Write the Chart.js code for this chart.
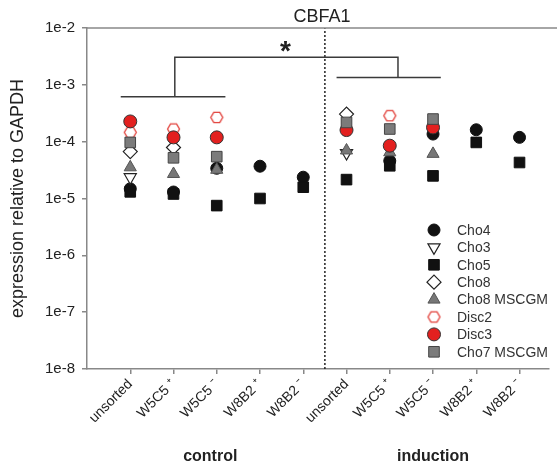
<!DOCTYPE html>
<html><head><meta charset="utf-8">
<script src="https://cdn.jsdelivr.net/npm/chart.js@4.4.1/dist/chart.umd.min.js"></script>
<style>html,body{margin:0;padding:0;background:#fff}</style>
</head><body>
<canvas id="c" width="557" height="466"></canvas>
<script>
// ---------- data ----------
const chartTitle = "CBFA1";
const categories = ["unsorted","W5C5 \u207A","W5C5 \u207B","W8B2 \u207A","W8B2 \u207B","unsorted","W5C5 \u207A","W5C5 \u207B","W8B2 \u207A","W8B2 \u207B"];
const groupLabels = ["control","induction"];
const groupCenters = [2.85, 8.0];
const yTicks = [1e-8,1e-7,1e-6,1e-5,1e-4,1e-3,1e-2];
const yTickLabels = ["1e-8","1e-7","1e-6","1e-5","1e-4","1e-3","1e-2"];
const seriesNames = ["Cho4","Cho3","Cho5","Cho8","Cho8 MSCGM","Disc2","Disc3","Cho7 MSCGM"];
const cho4      = [1.48e-5, 1.3e-5,  3.4e-5, 3.7e-5, 2.37e-5, null,    4.6e-5, 1.36e-4, 1.62e-4, 1.19e-4];
const cho3      = [2.37e-5, null,    null,   null,   null,    6.3e-5,  null,   null,    null,    null];
const cho5      = [1.31e-5, 1.2e-5,  7.5e-6, 1.0e-5, 1.58e-5, 2.15e-5, 3.76e-5,2.5e-5,  9.7e-5,  4.3e-5];
const cho8      = [6.7e-5,  7.9e-5,  null,   null,   null,    3.06e-4, null,   null,    null,    null];
const cho8MSCGM = [3.54e-5, 2.7e-5,  3.2e-5, null,   null,    7.0e-5,  6.5e-5, 6.1e-5,  null,    null];
const disc2     = [1.46e-4, 1.67e-4, 2.67e-4,null,   null,    null,    2.86e-4,null,    null,    null];
const disc3     = [2.27e-4, 1.19e-4, 1.19e-4,null,   null,    1.6e-4,  8.5e-5, 1.78e-4, null,    null];
const cho7MSCGM = [9.7e-5,  5.2e-5,  5.45e-5,null,   null,    2.18e-4, 1.67e-4,2.5e-4,  null,    null];
// significance bracket (data coordinates)
const bracketX = [0.78, 3.2, null, 2.03, 2.03, 7.19, 7.19, null, 5.77, 8.18];
const bracketY = [6.2e-4, 6.2e-4, null, 6.2e-4, 3.05e-3, 3.05e-3, 1.34e-3, null, 1.34e-3, 1.34e-3];
const starPos = [4.59, 4.6e-3];
const dividerX = 5.5;

// ---------- helpers ----------
function hexCanvas(r, stroke, fill, lw){
  const s = Math.ceil(2*r + lw*2 + 2);
  const c = document.createElement('canvas'); c.width = s; c.height = s;
  const g = c.getContext('2d');
  g.beginPath();
  for (let k=0;k<6;k++){ const a=Math.PI/3*k; const px=s/2+r*Math.cos(a), py=s/2+r*Math.sin(a); k?g.lineTo(px,py):g.moveTo(px,py); }
  g.closePath(); g.fillStyle=fill; g.fill(); g.lineWidth=lw; g.strokeStyle=stroke; g.stroke();
  return c;
}
const hexImg = hexCanvas(6, '#e2403a', '#ffffff', 1.3);
const toPts = arr => arr.map((v,i)=>({x:i+1, y:v}));

const styles = [
  {pointStyle:'circle',   radius:6,   rotation:0,   bg:'#111111', bc:'#111111', bw:1},
  {pointStyle:'triangle', radius:7,   rotation:180, bg:'#ffffff', bc:'#222222', bw:1.2},
  {pointStyle:'rect',     radius:7.5, rotation:0,   bg:'#111111', bc:'#111111', bw:1},
  {pointStyle:'rectRot',  radius:7,   rotation:0,   bg:'#ffffff', bc:'#222222', bw:1.2},
  {pointStyle:'triangle', radius:7,   rotation:0,   bg:'#777777', bc:'#555555', bw:1},
  {pointStyle:hexImg,     radius:6,   rotation:0,   bg:'#ffffff', bc:'#e2403a', bw:1.3},
  {pointStyle:'circle',   radius:6.5, rotation:0,   bg:'#e3201f', bc:'#333333', bw:1},
  {pointStyle:'rect',     radius:7.5, rotation:0,   bg:'#7b7b7b', bc:'#444444', bw:1}
];
const seriesData = [cho4, cho3, cho5, cho8, cho8MSCGM, disc2, disc3, cho7MSCGM];

// later series are drawn on top (lower order = drawn later)
const datasets = seriesData.map((arr,i)=>({
  label: seriesNames[i], data: toPts(arr), showLine:false, order: 20 - i,
  pointStyle: styles[i].pointStyle, pointRadius: styles[i].radius, pointRotation: styles[i].rotation,
  pointBackgroundColor: styles[i].bg, pointBorderColor: styles[i].bc, pointBorderWidth: styles[i].bw,
  pointHoverRadius: styles[i].radius
}));
datasets.push({
  label:'_bracket', order: 50, data: bracketX.map((x,i)=>({x: x===null?NaN:x, y: bracketY[i]})),
  showLine:true, spanGaps:false, borderColor:'#3a3a3a', borderWidth:1.5, pointRadius:0, fill:false
});
datasets.push({
  label:'_divider', order: 51, data:[{x:dividerX,y:yTicks[0]},{x:dividerX,y:yTicks[yTicks.length-1]}],
  showLine:true, borderColor:'#222', borderWidth:1.5, borderDash:[2,2], pointRadius:0, fill:false
});

const FONT = "'Liberation Sans', Arial, Helvetica, sans-serif";

const extras = {
  id:'extras',
  afterDraw(chart){
    const {ctx, chartArea:a, scales:{x,y}} = chart;
    ctx.save();
    // top frame line
    ctx.strokeStyle='#888'; ctx.lineWidth=1.5;
    ctx.beginPath(); ctx.moveTo(a.left, a.top); ctx.lineTo(chart.width, a.top); ctx.stroke();
    // title, centred over the plot frame
    ctx.fillStyle='#222'; ctx.font="18px "+FONT; ctx.textAlign='center'; ctx.textBaseline='middle';
    ctx.fillText(chartTitle, (a.left + chart.width)/2, 17);
    // star
    ctx.font="bold 28px "+FONT;
    ctx.fillText('*', x.getPixelForValue(starPos[0]), y.getPixelForValue(starPos[1])+5);
    // group labels
    ctx.font="bold 16px "+FONT;
    groupLabels.forEach((t,i)=>ctx.fillText(t, x.getPixelForValue(groupCenters[i]), 457));
    // legend
    const lx=434, tx=457, y0=230, dy=17.4;
    ctx.textAlign='left'; ctx.font="14px "+FONT; 
    seriesNames.forEach((n,i)=>{
      const s=styles[i], yy=y0+dy*i;
      ctx.fillStyle=s.bg; ctx.strokeStyle=s.bc; ctx.lineWidth=s.bw;
      Chart.helpers.drawPoint(ctx,{pointStyle:s.pointStyle, radius:s.radius, rotation:s.rotation, borderWidth:s.bw}, lx, yy);
      ctx.fillStyle='#333';
      ctx.fillText(n, tx, yy+1);
    });
    ctx.restore();
  }
};

new Chart(document.getElementById('c'), {
  type:'scatter',
  data:{datasets},
  plugins:[extras],
  options:{
    responsive:false, animation:false, devicePixelRatio:1,
    layout:{padding:{left:0,right:-8,top:28,bottom:0}},
    plugins:{
      legend:{display:false}, tooltip:{enabled:false}, title:{display:false}
    },
    scales:{
      x:{
        type:'linear', position:'bottom', min:0, max:10.67,
        afterBuildTicks: s => { s.ticks = categories.map((c,i)=>({value:i+1})); },
        afterFit: s => { s.height = 97; s.paddingRight = 0; s.paddingLeft = 0; },
        ticks:{autoSkip:false, maxRotation:45, minRotation:45, color:'#222', padding:2,
               font:{family:FONT, size:14}, callback:(v)=>categories[Math.round(v)-1]},
        grid:{drawOnChartArea:false, drawTicks:true, tickLength:5, color:'#888', lineWidth:1.5},
        border:{color:'#888', width:1.5}
      },
      y:{
        type:'logarithmic', min:1e-8, max:1e-2,
        afterBuildTicks: s => { s.ticks = yTicks.map(v=>({value:v})); },
        afterFit: s => { s.width = 87; },
        ticks:{color:'#222', padding:7, font:{family:FONT, size:15}, callback:(v,i)=>yTickLabels[i]},
        grid:{drawOnChartArea:false, drawTicks:true, tickLength:5, color:'#888', lineWidth:1.5},
        border:{color:'#888', width:1.5},
        title:{display:true, text:'expression relative to GAPDH', color:'#222', font:{family:FONT, size:18}, padding:{top:7,bottom:0}}
      }
    }
  }
});
</script>
</body></html>
